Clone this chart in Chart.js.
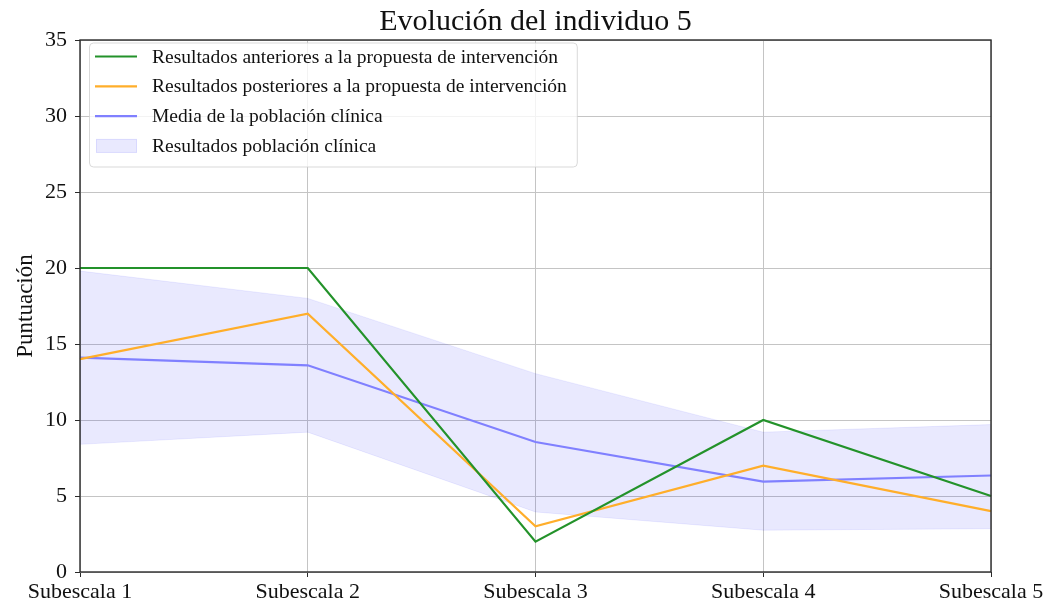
<!DOCTYPE html>
<html>
<head>
<meta charset="utf-8">
<script src="https://cdn.jsdelivr.net/npm/chart.js@4/dist/chart.umd.min.js"></script>
<style>
  html, body { margin: 0; padding: 0; background: #fff; }
  #wrap { width: 1049px; height: 605px; }
</style>
</head>
<body>
<div id="wrap"><canvas id="c" width="1049" height="605"></canvas></div>
<script>
// Subscales evaluated for individual 5
const categories = ['Subescala 1', 'Subescala 2', 'Subescala 3', 'Subescala 4', 'Subescala 5'];

// Scores before and after the intervention proposal
const antes = [20, 20, 2, 10, 5];
const despues = [14, 17, 3, 7, 4];

// Clinical population: mean and range
const mediaClinica = [14.1, 13.6, 8.55, 5.95, 6.35];
const bandaSuperior = [19.8, 18.0, 13.05, 9.2, 9.7];
const bandaInferior = [8.4, 9.2, 3.95, 2.75, 2.85];

// Y axis ticks
const yTicks = [0, 5, 10, 15, 20, 25, 30, 35];

const titulo = 'Evolución del individuo 5';

const SERIF = "'Liberation Serif', 'Times New Roman', serif";
const TEXT = '#111';

// Title centred over the plot area
const tituloCentrado = {
  id: 'tituloCentrado',
  afterDraw(chart) {
    const ctx = chart.ctx;
    const a = chart.chartArea;
    ctx.save();
    ctx.font = '30px ' + SERIF;
    ctx.fillStyle = TEXT;
    ctx.textAlign = 'center';
    ctx.textBaseline = 'alphabetic';
    ctx.fillText(titulo, (a.left + a.right) / 2, 29.5);
    ctx.restore();
  }
};

// Legend drawn inside the plot area, upper left
const leyendaInterna = {
  id: 'leyendaInterna',
  afterDraw(chart) {
    const ctx = chart.ctx;
    const a = chart.chartArea;
    const items = chart.data.datasets.filter(d => d.label && !d.sinLeyenda);
    ctx.save();
    ctx.font = '19.5px ' + SERIF;
    let maxW = 0;
    items.forEach(d => { maxW = Math.max(maxW, ctx.measureText(d.label).width); });
    const x0 = a.left + 9, y0 = a.top + 2.5;
    const w = 63 + maxW + 10, h = 124;
    ctx.globalAlpha = 0.8;
    ctx.fillStyle = '#fff';
    ctx.strokeStyle = '#d0d0d0';
    ctx.lineWidth = 1;
    ctx.beginPath();
    ctx.roundRect(x0 + 0.5, y0 + 0.5, w, h, 4);
    ctx.fill();
    ctx.stroke();
    ctx.globalAlpha = 1;
    items.forEach((d, i) => {
      const cy = y0 + 14 + i * 29.8;
      if (d.tipoLeyenda === 'area') {
        ctx.fillStyle = d.backgroundColor;
        ctx.fillRect(x0 + 7, cy - 7, 41, 14);
        ctx.strokeStyle = d.borderColor;
        ctx.lineWidth = 1;
        ctx.strokeRect(x0 + 7.5, cy - 6.5, 40, 13);
      } else {
        ctx.strokeStyle = d.borderColor;
        ctx.lineWidth = d.borderWidth;
        ctx.beginPath();
        ctx.moveTo(x0 + 6, cy);
        ctx.lineTo(x0 + 48, cy);
        ctx.stroke();
      }
      ctx.fillStyle = TEXT;
      ctx.textBaseline = 'middle';
      ctx.textAlign = 'left';
      ctx.fillText(d.label, x0 + 63, cy + 1);
    });
    ctx.restore();
  }
};

// Frame around the plot area
const marco = {
  id: 'marco',
  afterDatasetsDraw(chart) {
    const ctx = chart.ctx;
    const a = chart.chartArea;
    ctx.save();
    ctx.strokeStyle = '#2a2a2a';
    ctx.lineWidth = 1.4;
    ctx.strokeRect(a.left, a.top, a.right - a.left, a.bottom - a.top);
    ctx.restore();
  }
};

new Chart(document.getElementById('c'), {
  type: 'line',
  data: {
    labels: categories,
    datasets: [
      {
        label: 'Resultados anteriores a la propuesta de intervención',
        data: antes,
        borderColor: '#23922a',
        borderWidth: 2.2,
        pointRadius: 0,
        fill: false
      },
      {
        label: 'Resultados posteriores a la propuesta de intervención',
        data: despues,
        borderColor: '#ffae2a',
        borderWidth: 2.2,
        pointRadius: 0,
        fill: false
      },
      {
        label: 'Media de la población clínica',
        data: mediaClinica,
        borderColor: '#8080ff',
        borderWidth: 2.2,
        pointRadius: 0,
        fill: false
      },
      {
        label: 'Resultados población clínica',
        tipoLeyenda: 'area',
        data: bandaSuperior,
        borderColor: 'rgba(0,0,255,0.07)',
        backgroundColor: 'rgba(20,20,240,0.095)',
        borderWidth: 1,
        pointRadius: 0,
        fill: '+1'
      },
      {
        label: 'Límite inferior',
        sinLeyenda: true,
        data: bandaInferior,
        borderColor: 'rgba(0,0,255,0.07)',
        borderWidth: 1,
        pointRadius: 0,
        fill: false
      }
    ]
  },
  options: {
    responsive: false,
    animation: false,
    devicePixelRatio: 1,
    layout: { padding: { left: 0, right: 58, top: 40, bottom: 0 } },
    plugins: {
      legend: { display: false },
      tooltip: { enabled: false },
      title: { display: false }
    },
    scales: {
      x: {
        offset: false,
        grid: { color: '#c4c4c4', lineWidth: 1, tickColor: '#2a2a2a', tickLength: 5, drawTicks: true },
        border: { display: false },
        ticks: {
          color: TEXT,
          font: { family: SERIF, size: 22 },
          padding: 2,
          maxRotation: 0,
          autoSkip: false
        },
        afterFit(scale) { scale.height = 33; }
      },
      y: {
        min: 0,
        max: 35,
        afterBuildTicks(scale) { scale.ticks = yTicks.map(v => ({ value: v })); },
        grid: { color: '#c4c4c4', lineWidth: 1, tickColor: '#2a2a2a', tickLength: 5, drawTicks: true },
        border: { display: false },
        ticks: {
          color: TEXT,
          font: { family: SERIF, size: 22 },
          padding: 8
        },
        title: {
          display: true,
          text: 'Puntuación',
          color: TEXT,
          font: { family: SERIF, size: 23 },
          padding: { top: 12, bottom: 0 }
        },
        afterFit(scale) { scale.width = 80; }
      }
    }
  },
  plugins: [leyendaInterna, marco, tituloCentrado]
});
</script>
</body>
</html>
